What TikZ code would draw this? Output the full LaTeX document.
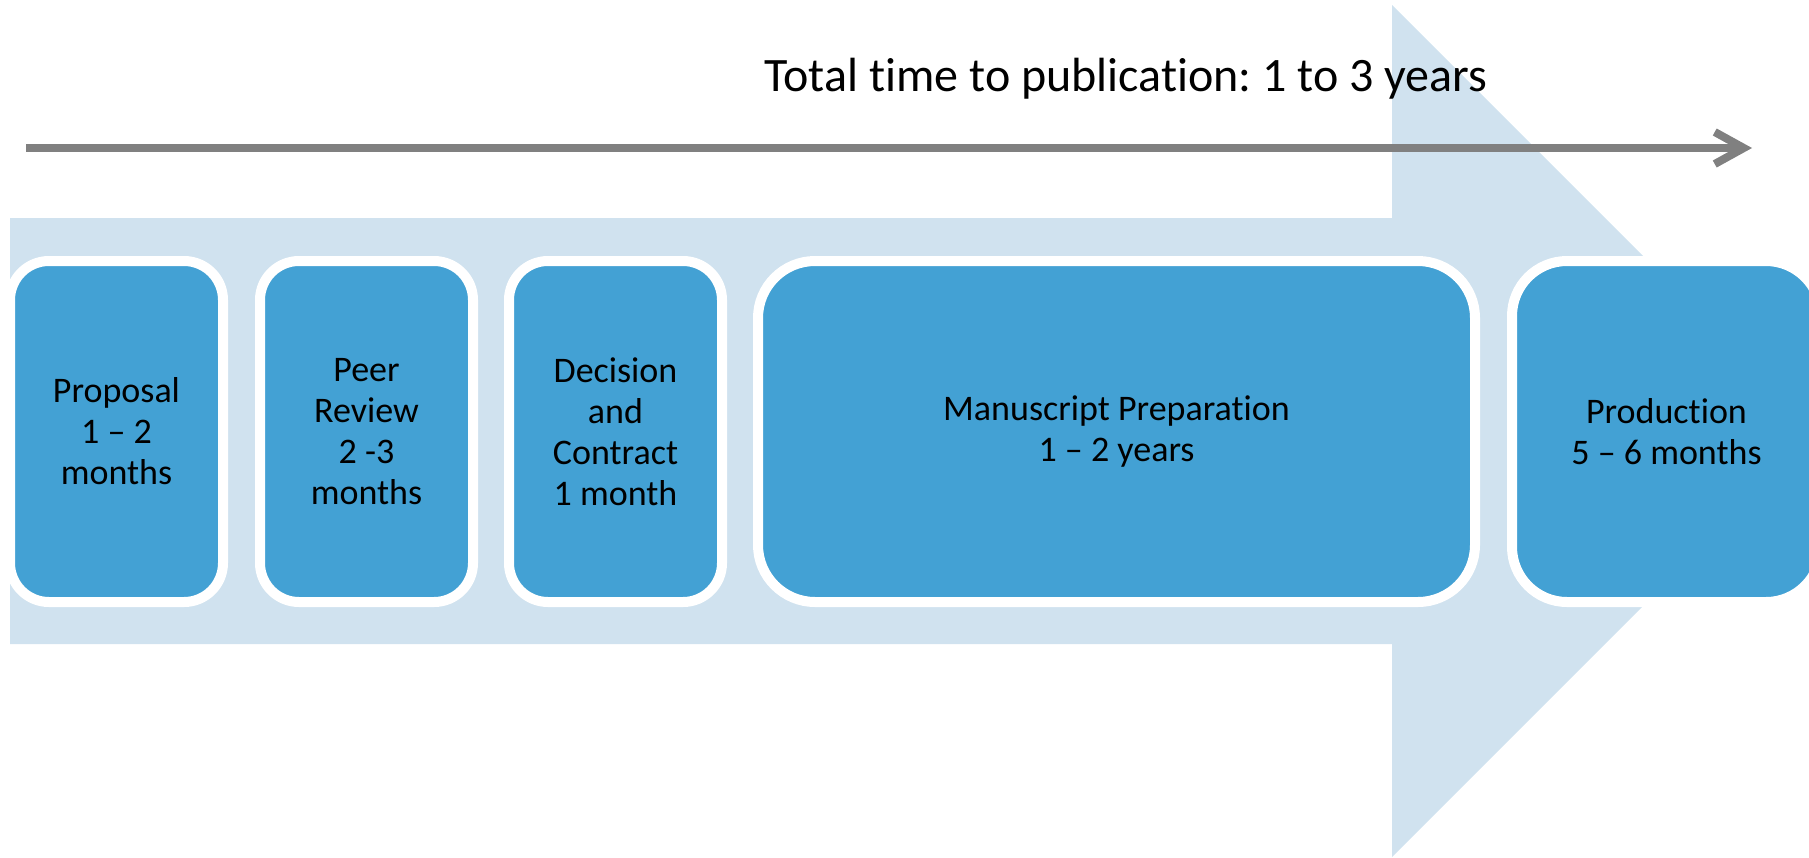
\documentclass[tikz,border=0pt]{standalone}
\usepackage{fontspec}
\setmainfont{Carlito}[Ligatures=NoCommon]
\usetikzlibrary{arrows.meta}
\frenchspacing
\definecolor{bandblue}{RGB}{208,226,239}
\definecolor{stageblue}{RGB}{67,161,212}
\definecolor{axisgray}{RGB}{128,128,128}
\tikzset{stage/.style={draw=white, line width=10pt, fill=stageblue,
         rounded corners=#1, minimum height=341pt, inner sep=0pt,
         align=center, font=\fontsize{36}{41}\selectfont},
         stage/.default={39pt}}

\begin{document}
\begin{tikzpicture}[x=1pt, y=-1pt]
  \useasboundingbox (0,0) rectangle (1809,857);
  % big light arrow behind the stages
  \fill[bandblue] (10,218) -- (1392,218) -- (1392,5) -- (1818,431)
    -- (1392,857) -- (1392,644) -- (10,644) -- cycle;

  \node[font=\fontsize{48}{58}\selectfont, anchor=base] (total) at (1126,91)
    {Total time to publication: 1 to 3 years};
  \coordinate (tstart) at (26,148);
  \coordinate (tend) at (1752,148);
  \draw[axisgray, line width=8pt, -{Straight Barb[length=29pt, width=32pt]}]
    (tstart) -- (tend);

  \node[stage, minimum width=213pt] (proposal) at (116.5,431.5)
    {Proposal\\1 – 2\\months};
  \node[stage, minimum width=213pt] (review) at (366.5,431.5)
    {Peer\\Review\\2 -3\\months};
  \node[stage, minimum width=213pt] (contract) at (615.5,431.5)
    {Decision\\and\\Contract\\1 month};
  \node[stage=57pt, minimum width=717pt] (manuscript) at (1116.5,431.5)
    {Manuscript Preparation\\1 – 2 years};
  \node[stage=55pt, minimum width=309pt] (production) at (1666.5,431.5)
    {Production\\5 – 6 months};
\end{tikzpicture}
\end{document}
